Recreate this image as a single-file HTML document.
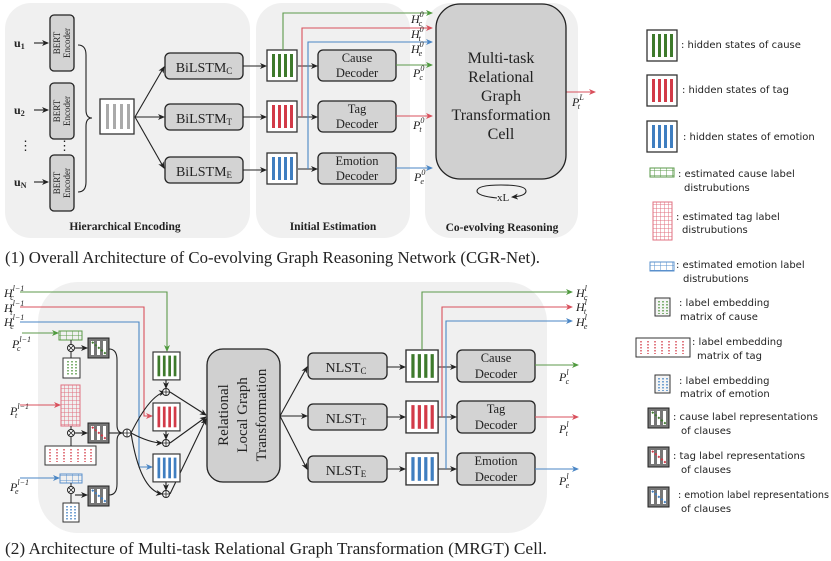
<!DOCTYPE html>
<html><head><meta charset="utf-8"><style>
html,body{margin:0;padding:0;background:#fff;width:831px;height:561px;overflow:hidden}
svg{display:block}
.s{font-family:"Liberation Serif",serif;fill:#222}
.l{font-family:"DejaVu Sans","Liberation Sans",sans-serif;font-size:10px;fill:#222}
.it{font-style:italic}
</style></head><body>
<svg width="831" height="561" viewBox="0 0 831 561" xmlns="http://www.w3.org/2000/svg">
<defs>
<marker id="ak" markerWidth="7" markerHeight="6" refX="6" refY="3" orient="auto" markerUnits="userSpaceOnUse"><path d="M0,0 L7,3 L0,6 L2,3z" fill="#222"/></marker>
<marker id="ag" markerWidth="7" markerHeight="6" refX="6" refY="3" orient="auto" markerUnits="userSpaceOnUse"><path d="M0,0 L7,3 L0,6 L2,3z" fill="#4f9a3e"/></marker>
<marker id="ar" markerWidth="7" markerHeight="6" refX="6" refY="3" orient="auto" markerUnits="userSpaceOnUse"><path d="M0,0 L7,3 L0,6 L2,3z" fill="#d9505c"/></marker>
<marker id="ab" markerWidth="7" markerHeight="6" refX="6" refY="3" orient="auto" markerUnits="userSpaceOnUse"><path d="M0,0 L7,3 L0,6 L2,3z" fill="#4a86c5"/></marker>
<g id="hg"><rect x="0" y="0" width="30" height="31" fill="#fff" stroke="#333" stroke-width="1.3"/><g fill="#3e7a2c"><rect x="5" y="4" width="3" height="23"/><rect x="11" y="4" width="3" height="23"/><rect x="17" y="4" width="3" height="23"/><rect x="23" y="4" width="3" height="23"/></g></g>
<g id="hr"><rect x="0" y="0" width="30" height="31" fill="#fff" stroke="#333" stroke-width="1.3"/><g fill="#d23a48"><rect x="5" y="4" width="3" height="23"/><rect x="11" y="4" width="3" height="23"/><rect x="17" y="4" width="3" height="23"/><rect x="23" y="4" width="3" height="23"/></g></g>
<g id="hb"><rect x="0" y="0" width="30" height="31" fill="#fff" stroke="#333" stroke-width="1.3"/><g fill="#3f7ec0"><rect x="5" y="4" width="3" height="23"/><rect x="11" y="4" width="3" height="23"/><rect x="17" y="4" width="3" height="23"/><rect x="23" y="4" width="3" height="23"/></g></g>
<g id="rg"><rect x="0" y="0" width="21" height="20" fill="#777" stroke="#222"/><g fill="#fff"><rect x="3" y="3" width="3" height="14"/><rect x="9" y="3" width="3" height="14"/><rect x="15" y="3" width="3" height="14"/></g></g>
<pattern id="gg" width="6" height="5" patternUnits="userSpaceOnUse"><path d="M0,0H6M0,0V5" stroke="#5a9a48" stroke-width="1" fill="none"/></pattern>
<pattern id="gr" width="4" height="4" patternUnits="userSpaceOnUse"><path d="M0,0H4M0,0V4" stroke="#e07080" stroke-width="1" fill="none"/></pattern>
<pattern id="gb" width="6" height="5" patternUnits="userSpaceOnUse"><path d="M0,0H6M0,0V5" stroke="#5a90cc" stroke-width="1" fill="none"/></pattern>
</defs>

<rect x="5" y="3" width="245" height="235" rx="26" fill="#f0f0f0"/>
<rect x="256" y="3" width="154" height="235" rx="26" fill="#f0f0f0"/>
<rect x="425" y="3" width="153" height="235" rx="26" fill="#f0f0f0"/>

<g fill="#d3d3d3" stroke="#222" stroke-width="1.3">
<rect x="50" y="15" width="24" height="56" rx="4"/>
<rect x="50" y="83" width="24" height="56" rx="4"/>
<rect x="50" y="155" width="24" height="56" rx="4"/>
</g>
<g class="s" font-size="9" text-anchor="middle">
<text transform="translate(60,43) rotate(-90)">BERT</text><text transform="translate(70,43) rotate(-90)">Encoder</text>
<text transform="translate(60,111) rotate(-90)">BERT</text><text transform="translate(70,111) rotate(-90)">Encoder</text>
<text transform="translate(60,183) rotate(-90)">BERT</text><text transform="translate(70,183) rotate(-90)">Encoder</text>
</g>
<g class="s" font-size="12" font-weight="bold">
<text x="14" y="47">u<tspan font-size="8" dy="2">1</tspan></text>
<text x="14" y="114">u<tspan font-size="8" dy="2">2</tspan></text>
<text x="14" y="186">u<tspan font-size="8" dy="2">N</tspan></text>
</g>
<text class="s" x="19" y="150" font-size="13">⋮</text>
<text class="s" x="58" y="150" font-size="13">⋮</text>
<g stroke="#222" stroke-width="1.1" fill="none" marker-end="url(#ak)">
<line x1="34" y1="43" x2="48" y2="43"/><line x1="34" y1="110" x2="48" y2="110"/><line x1="34" y1="182" x2="48" y2="182"/>
</g>
<path d="M78,45 Q86,45 86,55 L86,110 Q86,118 92,118 Q86,118 86,126 L86,182 Q86,192 78,192" stroke="#222" stroke-width="1.1" fill="none"/>
<rect x="100" y="99" width="34" height="35" fill="#fff" stroke="#333" stroke-width="1.3"/>
<g fill="#aaa"><rect x="106" y="104" width="3" height="25"/><rect x="113" y="104" width="3" height="25"/><rect x="120" y="104" width="3" height="25"/><rect x="127" y="104" width="3" height="25"/></g>
<g stroke="#222" stroke-width="1.1" fill="none" marker-end="url(#ak)">
<line x1="135" y1="117" x2="164" y2="67"/><line x1="135" y1="117" x2="164" y2="117"/><line x1="135" y1="117" x2="164" y2="168"/>
</g>
<g fill="#d3d3d3" stroke="#222" stroke-width="1.3">
<rect x="165" y="53" width="78" height="26" rx="5"/><rect x="165" y="104" width="78" height="26" rx="5"/><rect x="165" y="157" width="78" height="26" rx="5"/>
</g>
<g class="s" font-size="14" text-anchor="middle">
<text x="204" y="72">BiLSTM<tspan font-size="9" dy="2">C</tspan></text>
<text x="204" y="123">BiLSTM<tspan font-size="9" dy="2">T</tspan></text>
<text x="204" y="176">BiLSTM<tspan font-size="9" dy="2">E</tspan></text>
</g>
<g stroke="#222" stroke-width="1.1" fill="none" marker-end="url(#ak)">
<line x1="243" y1="66" x2="266" y2="66"/><line x1="243" y1="117" x2="266" y2="117"/><line x1="243" y1="170" x2="266" y2="170"/>
<line x1="298" y1="66" x2="317" y2="66"/><line x1="298" y1="117" x2="317" y2="117"/><line x1="298" y1="169" x2="317" y2="169"/>
</g>
<use href="#hg" x="267" y="50"/><use href="#hr" x="267" y="101"/><use href="#hb" x="267" y="153"/>
<g fill="#d3d3d3" stroke="#222" stroke-width="1.3">
<rect x="318" y="50" width="78" height="31" rx="5"/><rect x="318" y="101" width="78" height="31" rx="5"/><rect x="318" y="153" width="78" height="31" rx="5"/>
</g>
<g class="s" font-size="12.5" text-anchor="middle" fill="#333">
<text x="357" y="62">Cause</text><text x="357" y="77">Decoder</text>
<text x="357" y="113">Tag</text><text x="357" y="128">Decoder</text>
<text x="357" y="165">Emotion</text><text x="357" y="180">Decoder</text>
</g>
<g fill="none" stroke-width="1.1">
<path d="M283,50 V13 H432" stroke="#5d9a4b" marker-end="url(#ag)"/>
<path d="M302,117 V28 H432" stroke="#d9505c" marker-end="url(#ar)"/>
<path d="M308,169 V42 H432" stroke="#4a86c5" marker-end="url(#ab)"/>
<path d="M396,65 H432" stroke="#5d9a4b" marker-end="url(#ag)"/>
<path d="M396,116 H432" stroke="#d9505c" marker-end="url(#ar)"/>
<path d="M396,168 H432" stroke="#4a86c5" marker-end="url(#ab)"/>
<path d="M566,92 H595" stroke="#d9505c" marker-end="url(#ar)"/>
</g>
<g class="s it" font-size="12">
<text x="411" y="23">H<tspan font-size="8" dy="-6">0</tspan><tspan font-size="8" dx="-5" dy="9">c</tspan></text>
<text x="411" y="38">H<tspan font-size="8" dy="-6">0</tspan><tspan font-size="8" dx="-5" dy="9">t</tspan></text>
<text x="411" y="53">H<tspan font-size="8" dy="-6">0</tspan><tspan font-size="8" dx="-5" dy="9">e</tspan></text>
<text x="413" y="77">P<tspan font-size="8" dy="-6">0</tspan><tspan font-size="8" dx="-5" dy="9">c</tspan></text>
<text x="413" y="129">P<tspan font-size="8" dy="-6">0</tspan><tspan font-size="8" dx="-5" dy="9">t</tspan></text>
<text x="414" y="181">P<tspan font-size="8" dy="-6">0</tspan><tspan font-size="8" dx="-5" dy="9">e</tspan></text>
<text x="572" y="106">P<tspan font-size="8" dy="-6">L</tspan><tspan font-size="8" dx="-6" dy="9">t</tspan></text>
</g>
<rect x="436" y="4" width="130" height="175" rx="24" fill="#d0d0d0" stroke="#222" stroke-width="1.3"/>
<g class="s" font-size="16" text-anchor="middle" fill="#222">
<text x="501" y="63">Multi-task</text><text x="501" y="82">Relational</text><text x="501" y="101">Graph</text><text x="501" y="120">Transformation</text><text x="501" y="139">Cell</text>
</g>
<path d="M497,198 Q477,196 477,191 Q477,185 501,185 Q526,185 526,191 Q526,196 512,197" stroke="#222" stroke-width="1.1" fill="none" marker-end="url(#ak)"/>
<text class="s" x="497" y="201" font-size="11">xL</text>
<g class="s" font-size="11.5" font-weight="bold" text-anchor="middle">
<text x="125" y="230">Hierarchical Encoding</text><text x="333" y="230">Initial Estimation</text><text x="502" y="231">Co-evolving Reasoning</text>
</g>
<text class="s" x="5" y="263" font-size="16.5" textLength="535" lengthAdjust="spacingAndGlyphs">(1) Overall Architecture of Co-evolving Graph Reasoning Network (CGR-Net).</text>

<use href="#hg" x="647" y="30"/><use href="#hr" x="647" y="75"/><use href="#hb" x="647" y="121"/>
<g class="l">
<text x="681" y="48">: hidden states of cause</text>
<text x="682" y="93">: hidden states of tag</text>
<text x="683" y="140">: hidden states of emotion</text>
<text x="678" y="177">: estimated cause label</text><text x="684" y="191">distrubutions</text>
<text x="676" y="220">: estimated tag label</text><text x="682" y="233">distrubutions</text>
<text x="676" y="268">: estimated emotion label</text><text x="683" y="282">distrubutions</text>
<text x="679" y="306">: label embedding</text><text x="680" y="320">matrix of cause</text>
<text x="692" y="345">: label embedding</text><text x="697" y="359">matrix of tag</text>
<text x="679" y="384">: label embedding</text><text x="680" y="397">matrix of emotion</text>
<text x="673" y="420">: cause label representations</text><text x="681" y="434">of clauses</text>
<text x="673" y="459">: tag label representations</text><text x="681" y="473">of clauses</text>
<text x="678" y="498" textLength="151" lengthAdjust="spacingAndGlyphs">: emotion label representations</text><text x="681" y="512">of clauses</text>
</g>
<rect x="650" y="168" width="24" height="9" fill="url(#gg)" stroke="#5a9a48"/>
<rect x="653" y="202" width="19" height="38" fill="url(#gr)" stroke="#e07080"/>
<rect x="650" y="262" width="24" height="9" fill="url(#gb)" stroke="#5a90cc"/>
<rect x="655" y="298" width="15" height="18" fill="#f4f4f4" stroke="#333"/>
<g stroke="#5a9a48" stroke-dasharray="1.5 1.5" stroke-width="1.5"><line x1="659" y1="301" x2="659" y2="314"/><line x1="663" y1="301" x2="663" y2="314"/><line x1="667" y1="301" x2="667" y2="314"/></g>
<rect x="636" y="338" width="54" height="19" fill="#fff" stroke="#333"/>
<g stroke="#d9505c" stroke-dasharray="1.5 1.5" stroke-width="1.5"><line x1="641" y1="341" x2="641" y2="354"/><line x1="648" y1="341" x2="648" y2="354"/><line x1="655" y1="341" x2="655" y2="354"/><line x1="662" y1="341" x2="662" y2="354"/><line x1="669" y1="341" x2="669" y2="354"/><line x1="676" y1="341" x2="676" y2="354"/><line x1="683" y1="341" x2="683" y2="354"/></g>
<rect x="655" y="375" width="15" height="18" fill="#f4f4f4" stroke="#333"/>
<g stroke="#4a86c5" stroke-dasharray="1.5 1.5" stroke-width="1.5"><line x1="659" y1="378" x2="659" y2="391"/><line x1="663" y1="378" x2="663" y2="391"/><line x1="667" y1="378" x2="667" y2="391"/></g>
<use href="#rg" x="648" y="408"/><use href="#rg" x="648" y="447"/><use href="#rg" x="648" y="487"/>
<g stroke-width="2" stroke-dasharray="2 2"><line x1="652" y1="412" x2="666" y2="424" stroke="#3e7a2c"/><line x1="652" y1="451" x2="666" y2="463" stroke="#d23a48"/><line x1="652" y1="491" x2="666" y2="503" stroke="#3f7ec0"/></g>

<rect x="38" y="282" width="509" height="251" rx="40" fill="#f0f0f0"/>
<g class="s it" font-size="12">
<text x="4" y="297">H<tspan font-size="8" dy="-6">l−1</tspan><tspan font-size="8" dx="-14" dy="9">c</tspan></text>
<text x="4" y="312">H<tspan font-size="8" dy="-6">l−1</tspan><tspan font-size="8" dx="-14" dy="9">t</tspan></text>
<text x="4" y="326">H<tspan font-size="8" dy="-6">l−1</tspan><tspan font-size="8" dx="-14" dy="9">e</tspan></text>
<text x="12" y="348">P<tspan font-size="8" dy="-6">l−1</tspan><tspan font-size="8" dx="-14" dy="9">c</tspan></text>
<text x="10" y="415">P<tspan font-size="8" dy="-6">l−1</tspan><tspan font-size="8" dx="-14" dy="9">t</tspan></text>
<text x="10" y="491">P<tspan font-size="8" dy="-6">l−1</tspan><tspan font-size="8" dx="-14" dy="9">e</tspan></text>
</g>
<g fill="none" stroke-width="1.1">
<path d="M20,292 H167 V351" stroke="#5d9a4b" marker-end="url(#ag)"/>
<path d="M20,307 H144 V416 H152" stroke="#d9505c" marker-end="url(#ar)"/>
<path d="M20,322 H139 V467 H152" stroke="#4a86c5" marker-end="url(#ab)"/>
<path d="M22,333 H58" stroke="#5d9a4b" marker-end="url(#ag)"/>
<path d="M20,405 H60" stroke="#d9505c" marker-end="url(#ar)"/>
<path d="M20,478 H59" stroke="#4a86c5" marker-end="url(#ab)"/>
</g>
<rect x="59" y="331" width="23" height="9" fill="url(#gg)" stroke="#5a9a48"/>
<rect x="61" y="385" width="19" height="41" fill="url(#gr)" stroke="#e07080"/>
<rect x="60" y="474" width="22" height="9" fill="url(#gb)" stroke="#5a90cc"/>
<rect x="63" y="358" width="17" height="20" fill="#fff" stroke="#333"/>
<g stroke="#5a9a48" stroke-dasharray="1.5 1.5" stroke-width="1.5"><line x1="68" y1="361" x2="68" y2="376"/><line x1="72" y1="361" x2="72" y2="376"/><line x1="76" y1="361" x2="76" y2="376"/></g>
<rect x="45" y="446" width="51" height="19" fill="#fff" stroke="#333"/>
<g stroke="#d9505c" stroke-dasharray="1.5 1.5" stroke-width="1.5"><line x1="50" y1="449" x2="50" y2="462"/><line x1="57" y1="449" x2="57" y2="462"/><line x1="64" y1="449" x2="64" y2="462"/><line x1="71" y1="449" x2="71" y2="462"/><line x1="78" y1="449" x2="78" y2="462"/><line x1="85" y1="449" x2="85" y2="462"/><line x1="91" y1="449" x2="91" y2="462"/></g>
<rect x="63" y="503" width="16" height="19" fill="#fff" stroke="#333"/>
<g stroke="#4a86c5" stroke-dasharray="1.5 1.5" stroke-width="1.5"><line x1="67" y1="506" x2="67" y2="520"/><line x1="71" y1="506" x2="71" y2="520"/><line x1="75" y1="506" x2="75" y2="520"/></g>
<g stroke="#222" stroke-width="1" fill="none">
<line x1="71" y1="340" x2="71" y2="345"/><line x1="71" y1="358" x2="71" y2="352"/>
<line x1="71" y1="426" x2="71" y2="430"/><line x1="71" y1="446" x2="71" y2="437"/>
<line x1="71" y1="483" x2="71" y2="487"/><line x1="71" y1="503" x2="71" y2="494"/>
</g>
<g stroke="#222" stroke-width="1" fill="#fff">
<circle cx="71" cy="348" r="3.5"/><circle cx="71" cy="433" r="3.5"/><circle cx="71" cy="490" r="3.5"/>
</g>
<g stroke="#222" stroke-width="0.8"><path d="M68.5,345.5 L73.5,350.5 M73.5,345.5 L68.5,350.5 M68.5,430.5 L73.5,435.5 M73.5,430.5 L68.5,435.5 M68.5,487.5 L73.5,492.5 M73.5,487.5 L68.5,492.5"/></g>
<g stroke="#222" stroke-width="1.1" fill="none" marker-end="url(#ak)">
<line x1="75" y1="348" x2="87" y2="348"/><line x1="75" y1="433" x2="87" y2="433"/><line x1="75" y1="495" x2="87" y2="495"/>
</g>
<use href="#rg" x="88" y="338"/><use href="#rg" x="88" y="423"/><use href="#rg" x="88" y="486"/>
<g stroke-width="2" stroke-dasharray="2 2"><line x1="92" y1="342" x2="106" y2="354" stroke="#3e7a2c"/><line x1="92" y1="427" x2="106" y2="439" stroke="#d23a48"/><line x1="92" y1="490" x2="106" y2="502" stroke="#3f7ec0"/></g>
<g stroke="#222" stroke-width="1.1" fill="none">
<path d="M109,349 Q117,349 117,360 V425 Q117,433 123,433"/>
<path d="M109,433 H123"/>
<path d="M109,495 Q117,495 117,484 V441 Q117,433 123,433"/>
<path d="M131,433 Q150,395 165,392" marker-end="url(#ak)"/>
<path d="M131,433 Q150,443 162,443" marker-end="url(#ak)"/>
<path d="M131,433 Q140,490 162,494" marker-end="url(#ak)"/>
<line x1="166" y1="379" x2="166" y2="388" marker-end="url(#ak)"/>
<line x1="166" y1="430" x2="166" y2="439" marker-end="url(#ak)"/>
<line x1="166" y1="481" x2="166" y2="490" marker-end="url(#ak)"/>
<line x1="170" y1="392" x2="206" y2="415" marker-end="url(#ak)"/>
<line x1="170" y1="443" x2="206" y2="417" marker-end="url(#ak)"/>
<line x1="170" y1="494" x2="206" y2="419" marker-end="url(#ak)"/>
</g>
<g stroke="#222" stroke-width="1" fill="#fff">
<circle cx="127" cy="433" r="4"/><circle cx="166" cy="392" r="3.5"/><circle cx="166" cy="443" r="3.5"/><circle cx="166" cy="494" r="3.5"/>
</g>
<g stroke="#222" stroke-width="0.8"><path d="M123,433H131M127,429V437M162.5,392H169.5M166,388.5V395.5M162.5,443H169.5M166,439.5V446.5M162.5,494H169.5M166,490.5V497.5"/></g>
<use href="#hg" transform="translate(153,352) scale(0.9)"/>
<use href="#hr" transform="translate(153,403) scale(0.9)"/>
<use href="#hb" transform="translate(153,454) scale(0.9)"/>
<rect x="207" y="349" width="73" height="133" rx="16" fill="#d0d0d0" stroke="#222" stroke-width="1.3"/>
<g class="s" font-size="15" text-anchor="middle">
<text transform="translate(228,415) rotate(-90)">Relational</text>
<text transform="translate(247,415) rotate(-90)">Local Graph</text>
<text transform="translate(266,415) rotate(-90)">Transformation</text>
</g>
<g stroke="#222" stroke-width="1.1" fill="none" marker-end="url(#ak)">
<line x1="280" y1="416" x2="307" y2="367"/><line x1="280" y1="416" x2="307" y2="416"/><line x1="280" y1="416" x2="307" y2="469"/>
<line x1="387" y1="367" x2="405" y2="367"/><line x1="387" y1="417" x2="405" y2="417"/><line x1="387" y1="469" x2="405" y2="469"/>
<line x1="438" y1="367" x2="456" y2="367"/><line x1="438" y1="417" x2="456" y2="417"/><line x1="438" y1="469" x2="456" y2="469"/>
</g>
<g fill="#d3d3d3" stroke="#222" stroke-width="1.3">
<rect x="308" y="353" width="79" height="26" rx="5"/><rect x="308" y="404" width="79" height="26" rx="5"/><rect x="308" y="456" width="79" height="26" rx="5"/>
</g>
<g class="s" font-size="14" text-anchor="middle">
<text x="346" y="372">NLST<tspan font-size="9" dy="2">C</tspan></text>
<text x="346" y="423">NLST<tspan font-size="9" dy="2">T</tspan></text>
<text x="346" y="475">NLST<tspan font-size="9" dy="2">E</tspan></text>
</g>
<use href="#hg" transform="translate(406,350) scale(1.07,1.03)"/>
<use href="#hr" transform="translate(406,401) scale(1.07,1.03)"/>
<use href="#hb" transform="translate(406,453) scale(1.07,1.03)"/>
<g fill="#d3d3d3" stroke="#222" stroke-width="1.3">
<rect x="457" y="350" width="78" height="32" rx="5"/><rect x="457" y="401" width="78" height="32" rx="5"/><rect x="457" y="453" width="78" height="32" rx="5"/>
</g>
<g class="s" font-size="12.5" text-anchor="middle" fill="#333">
<text x="496" y="362">Cause</text><text x="496" y="378">Decoder</text>
<text x="496" y="413">Tag</text><text x="496" y="429">Decoder</text>
<text x="496" y="465">Emotion</text><text x="496" y="481">Decoder</text>
</g>
<g fill="none" stroke-width="1.1">
<path d="M422,350 V292 H572" stroke="#5d9a4b" marker-end="url(#ag)"/>
<path d="M442,417 V307 H572" stroke="#d9505c" marker-end="url(#ar)"/>
<path d="M446,469 V321 H572" stroke="#4a86c5" marker-end="url(#ab)"/>
<path d="M535,365 H578" stroke="#5d9a4b" marker-end="url(#ag)"/>
<path d="M535,417 H578" stroke="#d9505c" marker-end="url(#ar)"/>
<path d="M535,469 H578" stroke="#4a86c5" marker-end="url(#ab)"/>
</g>
<g class="s it" font-size="12">
<text x="576" y="297">H<tspan font-size="8" dy="-6">l</tspan><tspan font-size="8" dx="-3" dy="9">c</tspan></text>
<text x="576" y="311">H<tspan font-size="8" dy="-6">l</tspan><tspan font-size="8" dx="-3" dy="9">t</tspan></text>
<text x="576" y="326">H<tspan font-size="8" dy="-6">l</tspan><tspan font-size="8" dx="-3" dy="9">e</tspan></text>
<text x="559" y="381">P<tspan font-size="8" dy="-6">l</tspan><tspan font-size="8" dx="-3" dy="9">c</tspan></text>
<text x="559" y="433">P<tspan font-size="8" dy="-6">l</tspan><tspan font-size="8" dx="-3" dy="9">t</tspan></text>
<text x="559" y="485">P<tspan font-size="8" dy="-6">l</tspan><tspan font-size="8" dx="-3" dy="9">e</tspan></text>
</g>
<text class="s" x="5" y="554" font-size="16.5" textLength="542" lengthAdjust="spacingAndGlyphs">(2) Architecture of Multi-task Relational Graph Transformation (MRGT) Cell.</text>
</svg>
</body></html>
